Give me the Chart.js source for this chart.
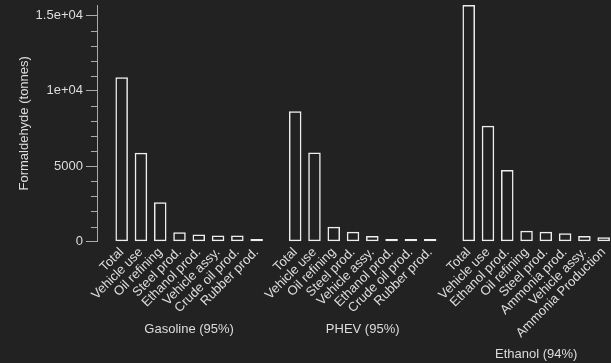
<!DOCTYPE html>
<html>
<head>
<meta charset="utf-8">
<title>Formaldehyde emissions by stage</title>
<script src="https://cdn.jsdelivr.net/npm/chart.js@4/dist/chart.umd.min.js"></script>
<style>
  html, body { margin: 0; padding: 0; background: #222222; overflow: hidden; }
  canvas { display: block; }
</style>
</head>
<body>
<canvas id="chart" width="611" height="363"></canvas>
<script>
// stage labels and values (tonnes) per fuel pathway
var gasolineLabels = ["Total", "Vehicle use", "Oil refining", "Steel prod.", "Ethanol prod.", "Vehicle assy.", "Crude oil prod.", "Rubber prod."];
var gasolineValues = [10900, 5900, 2620, 620, 470, 400, 400, 180];

var phevLabels = ["Total", "Vehicle use", "Oil refining", "Steel prod.", "Vehicle assy.", "Ethanol prod.", "Crude oil prod.", "Rubber prod."];
var phevValues = [8650, 5910, 980, 650, 380, 180, 180, 170];

var ethanolLabels = ["Total", "Vehicle use", "Ethanol prod.", "Oil refining", "Steel prod.", "Ammonia prod.", "Vehicle assy.", "Ammonia Production"];
var ethanolValues = [15700, 7690, 4750, 730, 650, 550, 380, 290];

var groupTitles = ["Gasoline (95%)", "PHEV (95%)", "Ethanol (94%)"];

var yTickValues = [0, 5000, 10000, 15000];
var yMinorStep = 1000;

var textColor = "#dddddd";
var axisColor = "#aaaaaa";
var barColor = "#eeeeee";
var fontFamily = "'Liberation Sans', Arial, sans-serif";

// lay the three groups out on one numeric axis with an empty slot between them
var groupLabels = [gasolineLabels, phevLabels, ethanolLabels];
var groupValues = [gasolineValues, phevValues, ethanolValues];
var points = [];
var tickText = {};
var tickPositions = [];
var groupSpans = [];
var pos = 0;
groupLabels.forEach(function (labels, g) {
    var first = pos;
    labels.forEach(function (label, i) {
        points.push({ x: pos, y: groupValues[g][i] });
        tickText[pos] = label;
        tickPositions.push(pos);
        pos++;
    });
    groupSpans.push({ title: groupTitles[g], labels: labels, first: first, last: pos - 1 });
    pos++;
});
var allValues = [].concat(gasolineValues, phevValues, ethanolValues);

// R-style axis numbers: 5000, 1e+04, 1.5e+04
function rFormat(v) {
    if (v < 1e4) return String(v);
    var e = Math.floor(Math.log10(v));
    var m = v / Math.pow(10, e);
    return m + "e+" + String(e).padStart(2, "0");
}

// short unlabelled ticks between the major ones
var minorTicks = {
    id: "minorTicks",
    afterDraw: function (chart) {
        var y = chart.scales.y;
        var ctx = chart.ctx;
        ctx.save();
        ctx.strokeStyle = axisColor;
        ctx.lineWidth = 1;
        ctx.beginPath();
        for (var v = yMinorStep; v < y.max; v += yMinorStep) {
            if (yTickValues.indexOf(v) !== -1) continue;
            var py = Math.round(y.getPixelForValue(v)) + 0.5;
            ctx.moveTo(y.right - 7, py);
            ctx.lineTo(y.right, py);
        }
        ctx.stroke();
        ctx.restore();
    }
};

// a caption under each group's rotated labels
var groupCaptions = {
    id: "groupCaptions",
    afterDraw: function (chart) {
        var ctx = chart.ctx;
        var x = chart.scales.x;
        ctx.save();
        ctx.font = "13px " + fontFamily;
        ctx.fillStyle = textColor;
        ctx.textAlign = "center";
        ctx.textBaseline = "middle";
        groupSpans.forEach(function (span) {
            var widest = Math.max.apply(null, span.labels.map(function (l) { return ctx.measureText(l).width; }));
            var cx = x.getPixelForValue((span.first + span.last) / 2);
            var cy = chart.chartArea.bottom + 27 + widest * Math.SQRT1_2;
            ctx.fillText(span.title, cx, cy);
        });
        ctx.restore();
    }
};

var chart = new Chart(document.getElementById("chart"), {
    type: "bar",
    data: {
        datasets: [{
            data: points,
            backgroundColor: "transparent",
            borderColor: barColor,
            borderWidth: 1.5,
            borderSkipped: false,
            categoryPercentage: 1,
            barPercentage: 0.65
        }]
    },
    options: {
        responsive: false,
        animation: false,
        devicePixelRatio: 1,
        layout: { padding: { left: 13, right: 0, top: 5, bottom: 19 } },
        plugins: {
            legend: { display: false },
            tooltip: { enabled: false }
        },
        scales: {
            x: {
                type: "linear",
                min: -1.23,
                max: 25.38,
                bounds: "data",
                offset: false,
                grid: { display: false, drawTicks: false, offset: false },
                border: { display: false },
                afterBuildTicks: function (scale) {
                    scale.ticks = tickPositions.map(function (p) { return { value: p }; });
                },
                afterFit: function (scale) {
                    scale.paddingLeft = 0;
                    scale.paddingRight = 0;
                },
                ticks: {
                    autoSkip: false,
                    minRotation: 45,
                    maxRotation: 45,
                    padding: 3,
                    color: textColor,
                    font: { family: fontFamily, size: 13 },
                    callback: function (v) { return tickText[v] || ""; }
                }
            },
            y: {
                min: 0,
                max: Math.max.apply(null, allValues),
                border: { color: axisColor, width: 1 },
                grid: { drawOnChartArea: false, drawTicks: true, tickLength: 12, tickColor: axisColor, tickWidth: 1 },
                afterBuildTicks: function (scale) {
                    scale.ticks = yTickValues.map(function (v) { return { value: v }; });
                },
                afterFit: function (scale) {
                    scale.paddingTop = 0;
                    scale.paddingBottom = 0;
                },
                ticks: {
                    padding: 3,
                    color: textColor,
                    font: { family: fontFamily, size: 13 },
                    callback: function (v) { return rFormat(v); }
                },
                title: {
                    display: true,
                    text: "Formaldehyde (tonnes)",
                    color: textColor,
                    font: { family: fontFamily, size: 13 },
                    padding: { top: 4, bottom: 0 }
                }
            }
        }
    },
    plugins: [minorTicks, groupCaptions]
});
</script>
</body>
</html>
